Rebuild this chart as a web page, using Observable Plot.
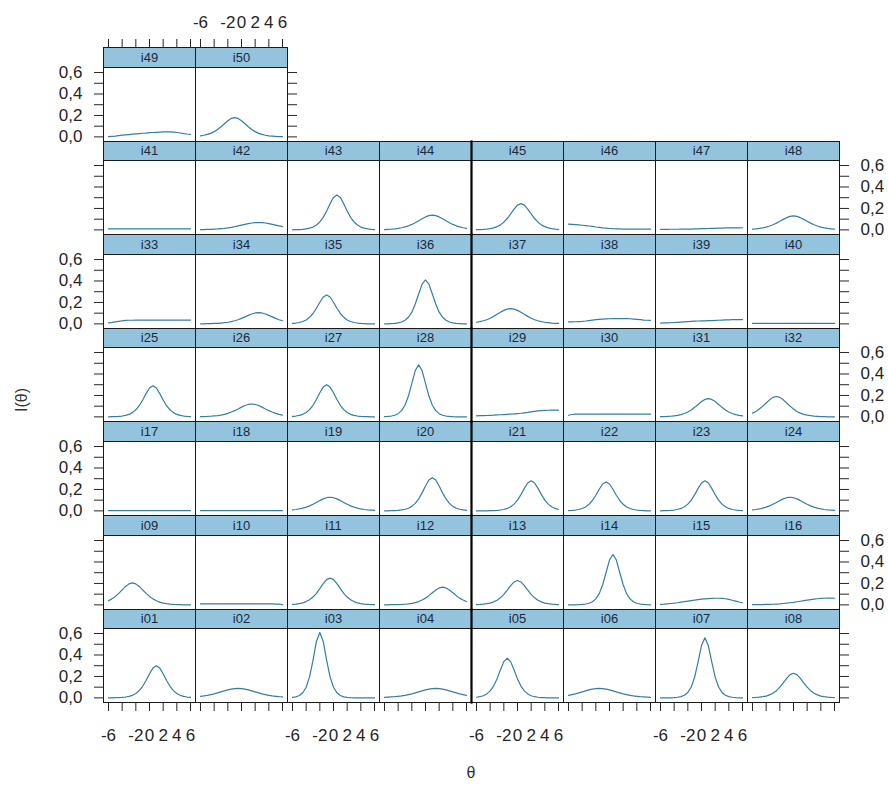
<!DOCTYPE html>
<html><head><meta charset="utf-8">
<script src="https://cdn.jsdelivr.net/npm/d3@7"></script>
<script src="https://cdn.jsdelivr.net/npm/@observablehq/plot@0.6"></script>
<style>
html,body{margin:0;padding:0;background:#fff;}
#chart{position:relative;width:888px;height:787px;overflow:hidden;font-family:"Liberation Sans",Arial,sans-serif;}
.ttl{position:absolute;color:#333;font-size:16px;white-space:nowrap;}
</style></head><body>
<div id="chart"></div>
<script>
// ---- data ----
const theta = [-6,-5.5,-5,-4.5,-4,-3.5,-3,-2.5,-2,-1.5,-1,-0.5,0,0.5,1,1.5,2,2.5,3,3.5,4,4.5,5,5.5,6];
const i01 = [0.001,0.001,0.002,0.003,0.005,0.008,0.014,0.024,0.041,0.068,0.108,0.162,0.225,0.278,0.300,0.278,0.225,0.162,0.108,0.068,0.041,0.024,0.014,0.008,0.005];
const i02 = [0.015,0.019,0.024,0.031,0.038,0.047,0.056,0.065,0.074,0.081,0.086,0.088,0.086,0.081,0.074,0.065,0.056,0.047,0.038,0.031,0.024,0.019,0.015,0.011,0.009];
const i03 = [0.005,0.010,0.022,0.048,0.099,0.196,0.350,0.526,0.610,0.526,0.350,0.196,0.099,0.048,0.022,0.010,0.005,0.002,0.001,0,0,0,0,0,0];
const i04 = [0.005,0.007,0.009,0.011,0.015,0.019,0.024,0.031,0.038,0.047,0.056,0.065,0.074,0.081,0.086,0.088,0.086,0.081,0.074,0.065,0.056,0.047,0.038,0.031,0.024];
const i05 = [0.006,0.011,0.020,0.037,0.065,0.110,0.177,0.261,0.338,0.370,0.338,0.261,0.177,0.110,0.065,0.037,0.020,0.011,0.006,0.003,0.002,0.001,0.001,0,0];
const i06 = [0.024,0.031,0.038,0.047,0.056,0.065,0.074,0.081,0.086,0.088,0.086,0.081,0.074,0.065,0.056,0.047,0.038,0.031,0.024,0.019,0.015,0.011,0.009,0.007,0.005];
const i07 = [0,0,0.001,0.001,0.003,0.006,0.012,0.025,0.051,0.102,0.194,0.335,0.488,0.560,0.488,0.335,0.194,0.102,0.051,0.025,0.012,0.006,0.003,0.001,0.001];
const i08 = [0.003,0.004,0.007,0.011,0.017,0.028,0.044,0.067,0.100,0.140,0.182,0.217,0.230,0.217,0.182,0.140,0.100,0.067,0.044,0.028,0.017,0.011,0.007,0.004,0.003];
const i09 = [0.038,0.056,0.079,0.107,0.140,0.172,0.196,0.205,0.196,0.172,0.140,0.107,0.079,0.056,0.038,0.026,0.017,0.012,0.008,0.005,0.003,0.002,0.001,0.001,0.001];
const i10 = [0.009,0.009,0.009,0.009,0.009,0.009,0.009,0.009,0.009,0.009,0.009,0.009,0.009,0.009,0.009,0.009,0.009,0.009,0.009,0.009,0.009,0.009,0.008,0.008,0.003];
const i11 = [0.005,0.007,0.012,0.019,0.031,0.048,0.073,0.108,0.152,0.198,0.236,0.250,0.236,0.198,0.152,0.108,0.073,0.048,0.031,0.019,0.012,0.007,0.005,0.003,0.002];
const i12 = [0.001,0.001,0.002,0.002,0.003,0.004,0.006,0.009,0.014,0.021,0.031,0.045,0.063,0.086,0.113,0.138,0.158,0.165,0.158,0.138,0.113,0.086,0.063,0.045,0.031];
const i13 = [0.003,0.004,0.007,0.011,0.017,0.028,0.043,0.066,0.098,0.138,0.180,0.214,0.227,0.214,0.180,0.138,0.098,0.066,0.043,0.028,0.017,0.011,0.007,0.004,0.003];
const i14 = [0,0,0.001,0.002,0.004,0.008,0.015,0.029,0.056,0.105,0.188,0.302,0.418,0.470,0.418,0.302,0.188,0.105,0.056,0.029,0.015,0.008,0.004,0.002,0.001];
const i15 = [0.005,0.007,0.010,0.013,0.016,0.020,0.025,0.030,0.035,0.040,0.045,0.049,0.053,0.056,0.059,0.061,0.062,0.062,0.061,0.057,0.051,0.043,0.035,0.027,0.020];
const i16 = [0.002,0.002,0.003,0.003,0.004,0.005,0.006,0.008,0.010,0.013,0.016,0.020,0.024,0.029,0.034,0.039,0.044,0.049,0.053,0.057,0.060,0.062,0.063,0.063,0.062];
const i17 = [0.003,0.003,0.003,0.003,0.003,0.003,0.003,0.003,0.003,0.003,0.003,0.003,0.003,0.003,0.003,0.003,0.003,0.003,0.003,0.003,0.003,0.003,0.003,0.003,0.003];
const i18 = [0.003,0.003,0.003,0.003,0.003,0.003,0.003,0.003,0.003,0.003,0.003,0.003,0.003,0.003,0.003,0.003,0.003,0.003,0.003,0.003,0.003,0.003,0.003,0.003,0.003];
const i19 = [0.009,0.013,0.018,0.026,0.035,0.047,0.062,0.079,0.096,0.112,0.123,0.127,0.123,0.112,0.096,0.079,0.062,0.047,0.035,0.026,0.018,0.013,0.009,0.007,0.005];
const i20 = [0.001,0.001,0.002,0.003,0.005,0.009,0.015,0.025,0.042,0.070,0.111,0.168,0.232,0.288,0.310,0.288,0.232,0.168,0.111,0.070,0.042,0.025,0.015,0.009,0.005];
const i21 = [0,0,0.001,0.001,0.002,0.003,0.005,0.008,0.013,0.023,0.038,0.063,0.101,0.151,0.210,0.260,0.280,0.260,0.210,0.151,0.101,0.063,0.038,0.023,0.013];
const i22 = [0.003,0.004,0.008,0.013,0.022,0.037,0.061,0.097,0.146,0.202,0.251,0.270,0.251,0.202,0.146,0.097,0.061,0.037,0.022,0.013,0.008,0.004,0.003,0.001,0.001];
const i23 = [0.001,0.002,0.003,0.005,0.008,0.013,0.023,0.038,0.063,0.101,0.151,0.210,0.260,0.280,0.260,0.210,0.151,0.101,0.063,0.038,0.023,0.013,0.008,0.005,0.003];
const i24 = [0.009,0.013,0.018,0.026,0.035,0.047,0.062,0.079,0.096,0.112,0.123,0.127,0.123,0.112,0.096,0.079,0.062,0.047,0.035,0.026,0.018,0.013,0.009,0.007,0.005];
const i25 = [0.001,0.002,0.003,0.005,0.008,0.014,0.023,0.040,0.066,0.104,0.157,0.217,0.269,0.290,0.269,0.217,0.157,0.104,0.066,0.040,0.023,0.014,0.008,0.005,0.003];
const i26 = [0.002,0.003,0.004,0.006,0.009,0.012,0.017,0.024,0.033,0.045,0.058,0.074,0.091,0.106,0.116,0.120,0.116,0.106,0.091,0.074,0.058,0.045,0.033,0.024,0.017];
const i27 = [0.005,0.008,0.014,0.024,0.041,0.068,0.108,0.162,0.225,0.278,0.300,0.278,0.225,0.162,0.108,0.068,0.041,0.024,0.014,0.008,0.005,0.003,0.002,0.001,0.001];
const i28 = [0.002,0.004,0.008,0.015,0.030,0.058,0.109,0.194,0.312,0.432,0.485,0.432,0.312,0.194,0.109,0.058,0.030,0.015,0.008,0.004,0.002,0.001,0,0,0];
const i29 = [0.010,0.011,0.012,0.013,0.015,0.016,0.018,0.020,0.022,0.024,0.026,0.028,0.031,0.034,0.038,0.042,0.047,0.052,0.056,0.059,0.061,0.062,0.063,0.063,0.063];
const i30 = [0.015,0.022,0.026,0.026,0.026,0.026,0.026,0.026,0.026,0.026,0.026,0.026,0.026,0.026,0.026,0.026,0.026,0.026,0.026,0.026,0.026,0.026,0.026,0.026,0.026];
const i31 = [0.002,0.003,0.004,0.006,0.010,0.014,0.021,0.032,0.046,0.065,0.089,0.116,0.143,0.163,0.170,0.163,0.143,0.116,0.089,0.065,0.046,0.032,0.021,0.014,0.010];
const i32 = [0.035,0.051,0.073,0.100,0.130,0.159,0.182,0.190,0.182,0.159,0.130,0.100,0.073,0.051,0.035,0.024,0.016,0.011,0.007,0.005,0.003,0.002,0.001,0.001,0.001];
const i33 = [0.010,0.014,0.019,0.024,0.029,0.032,0.034,0.034,0.035,0.035,0.035,0.035,0.036,0.036,0.036,0.036,0.036,0.036,0.036,0.036,0.036,0.036,0.036,0.036,0.036];
const i34 = [0.001,0.001,0.002,0.003,0.004,0.005,0.008,0.011,0.015,0.021,0.029,0.039,0.051,0.065,0.079,0.092,0.102,0.105,0.102,0.092,0.079,0.065,0.051,0.039,0.029];
const i35 = [0.004,0.008,0.013,0.022,0.037,0.061,0.097,0.146,0.202,0.251,0.270,0.251,0.202,0.146,0.097,0.061,0.037,0.022,0.013,0.008,0.004,0.003,0.001,0.001,0];
const i36 = [0.001,0.001,0.003,0.005,0.009,0.018,0.034,0.062,0.109,0.185,0.279,0.371,0.410,0.371,0.279,0.185,0.109,0.062,0.034,0.018,0.009,0.005,0.003,0.001,0.001];
const i37 = [0.015,0.021,0.029,0.039,0.053,0.070,0.089,0.108,0.126,0.138,0.143,0.138,0.126,0.108,0.089,0.070,0.053,0.039,0.029,0.021,0.015,0.011,0.007,0.005,0.004];
const i38 = [0.018,0.019,0.020,0.022,0.024,0.027,0.031,0.035,0.039,0.042,0.045,0.047,0.048,0.049,0.050,0.050,0.050,0.049,0.048,0.045,0.042,0.039,0.036,0.034,0.033];
const i39 = [0.008,0.009,0.010,0.011,0.013,0.015,0.017,0.019,0.021,0.023,0.025,0.027,0.028,0.029,0.030,0.031,0.032,0.034,0.036,0.037,0.038,0.039,0.040,0.040,0.040];
const i40 = [0.004,0.004,0.004,0.004,0.004,0.004,0.004,0.004,0.004,0.004,0.004,0.004,0.004,0.004,0.004,0.004,0.004,0.004,0.004,0.004,0.004,0.004,0.004,0.004,0.004];
const i41 = [0.010,0.010,0.010,0.010,0.010,0.010,0.010,0.010,0.010,0.010,0.010,0.010,0.010,0.010,0.010,0.010,0.010,0.010,0.010,0.010,0.010,0.010,0.010,0.010,0.010];
const i42 = [0.002,0.003,0.004,0.005,0.007,0.009,0.012,0.015,0.019,0.024,0.030,0.037,0.044,0.051,0.058,0.064,0.068,0.069,0.068,0.064,0.058,0.051,0.044,0.037,0.030];
const i43 = [0.001,0.002,0.003,0.005,0.009,0.016,0.026,0.045,0.074,0.117,0.176,0.244,0.303,0.326,0.303,0.244,0.176,0.117,0.074,0.045,0.026,0.016,0.009,0.005,0.003];
const i44 = [0.003,0.005,0.007,0.010,0.014,0.020,0.028,0.038,0.051,0.067,0.085,0.104,0.121,0.133,0.137,0.133,0.121,0.104,0.085,0.067,0.051,0.038,0.028,0.020,0.014];
const i45 = [0.002,0.003,0.004,0.007,0.012,0.019,0.030,0.047,0.072,0.106,0.149,0.194,0.231,0.245,0.231,0.194,0.149,0.106,0.072,0.047,0.030,0.019,0.012,0.007,0.004];
const i46 = [0.053,0.051,0.049,0.046,0.043,0.040,0.036,0.032,0.027,0.023,0.019,0.016,0.013,0.011,0.010,0.009,0.008,0.008,0.008,0.008,0.007,0.007,0.007,0.007,0.007];
const i47 = [0.005,0.005,0.005,0.006,0.006,0.006,0.007,0.007,0.008,0.008,0.009,0.010,0.011,0.012,0.013,0.014,0.015,0.016,0.017,0.018,0.018,0.019,0.019,0.019,0.020];
const i48 = [0.007,0.010,0.014,0.019,0.026,0.036,0.048,0.063,0.081,0.098,0.114,0.126,0.130,0.126,0.114,0.098,0.081,0.063,0.048,0.036,0.026,0.019,0.014,0.010,0.007];
const i49 = [0.002,0.005,0.008,0.012,0.016,0.019,0.022,0.025,0.028,0.031,0.034,0.036,0.039,0.041,0.043,0.045,0.047,0.048,0.047,0.045,0.041,0.036,0.031,0.027,0.024];
const i50 = [0.010,0.015,0.023,0.033,0.049,0.069,0.094,0.123,0.151,0.172,0.180,0.172,0.151,0.123,0.094,0.069,0.049,0.033,0.023,0.015,0.010,0.007,0.004,0.003,0.002];

const itemNames = ["i01","i02","i03","i04","i05","i06","i07","i08","i09","i10",
  "i11","i12","i13","i14","i15","i16","i17","i18","i19","i20",
  "i21","i22","i23","i24","i25","i26","i27","i28","i29","i30",
  "i31","i32","i33","i34","i35","i36","i37","i38","i39","i40",
  "i41","i42","i43","i44","i45","i46","i47","i48","i49","i50"];
const itemValues = [i01,i02,i03,i04,i05,i06,i07,i08,i09,i10,i11,i12,i13,i14,i15,i16,i17,i18,i19,i20,
  i21,i22,i23,i24,i25,i26,i27,i28,i29,i30,i31,i32,i33,i34,i35,i36,i37,i38,i39,i40,
  i41,i42,i43,i44,i45,i46,i47,i48,i49,i50];
const yTickValues = [0, 0.1, 0.2, 0.3, 0.4, 0.5, 0.6];
const yTickLabels = [0, 0.2, 0.4, 0.6];
const xTickValues = [-6, -4, -2, 0, 2, 4, 6];
const xTickLabels = [-6, -2, 0, 2, 4, 6];
const xTitle = "θ";
const yTitle = "I(θ)";

// ---- layout & style ----
const NCOL = 8, PW = 92, PH = 74, LEFT0 = 103;
const stripTops = [47, 141, 234, 328, 421, 515, 609];
const panelBottoms = [141, 234, 328, 421, 515, 609, 702];
const M = {l: 70, r: 70, t: 70, b: 60};
const lineColor = "#357f9c", stripColor = "#94c3de", borderColor = "#1a1a1a", textColor = "#262626";
const fmtY = d => d.toFixed(1).replace(".", ",");
const fmtX = d => String(d);
const blank = () => "";
const FS = 17;

const chart = document.getElementById("chart");
itemNames.forEach((name, n) => {
  const rb = Math.floor(n / NCOL), c = n % NCOL, R = 6 - rb;
  const panelTop = panelBottoms[R] - PH;
  const stripH = panelTop - stripTops[R];
  const lastInRow = c === NCOL - 1 || n === itemNames.length - 1;
  const data = theta.map((t, j) => ({theta: t, info: itemValues[n][j]}));
  const marks = [
    Plot.frame({fill: stripColor, stroke: borderColor, insetTop: -stripH, insetBottom: PH}),
    Plot.text([name], {text: d => d, frameAnchor: "top", lineAnchor: "middle", dy: -stripH / 2, fontSize: 13, fill: "#1b2a3a"}),
    Plot.line(data, {x: "theta", y: "info", stroke: lineColor, strokeWidth: 1.2}),
    Plot.frame({stroke: borderColor})
  ];
  if (c === 4 && rb <= 5) {
    marks.push(Plot.frame({anchor: "left", stroke: "#000", strokeWidth: 2.2, insetTop: -stripH}));
  }
  if (rb === 0) {
    marks.push(Plot.axisX(xTickValues, {anchor: "bottom", tickSize: 9, tickFormat: blank, label: null}));
    if (c % 2 === 0) marks.push(Plot.axisX(xTickLabels, {anchor: "bottom", tickSize: 0, tickPadding: 26, tickFormat: fmtX, fontSize: FS, label: null}));
  }
  if (R === 0) {
    marks.push(Plot.axisX(xTickValues, {anchor: "top", tickSize: 9, dy: -stripH, tickFormat: blank, label: null}));
    if (c % 2 === 1) marks.push(Plot.axisX(xTickLabels, {anchor: "top", tickSize: 0, tickPadding: stripH + 20, tickFormat: fmtX, fontSize: FS, label: null}));
  }
  if (c === 0) {
    marks.push(Plot.axisY(yTickValues, {anchor: "left", tickSize: 9, tickFormat: blank, label: null}));
    if (rb % 2 === 0) marks.push(Plot.axisY(yTickLabels, {anchor: "left", tickSize: 0, tickPadding: 21, tickFormat: fmtY, fontSize: FS, label: null}));
  }
  if (lastInRow) {
    marks.push(Plot.axisY(yTickValues, {anchor: "right", tickSize: 9, tickFormat: blank, label: null}));
    if (rb % 2 === 1) marks.push(Plot.axisY(yTickLabels, {anchor: "right", tickSize: 0, tickPadding: 21, tickFormat: fmtY, fontSize: FS, label: null}));
  }
  const svg = Plot.plot({
    width: PW + M.l + M.r, height: PH + M.t + M.b,
    marginLeft: M.l, marginRight: M.r, marginTop: M.t, marginBottom: M.b,
    x: {domain: [-6.73, 6.73], axis: null, label: null},
    y: {domain: [-0.043, 0.647], axis: null, label: null},
    style: {background: "transparent", overflow: "visible", color: textColor,
            fontFamily: "'Liberation Sans', Arial, sans-serif", fontSize: "16px"},
    marks
  });
  svg.style.position = "absolute";
  svg.style.left = (LEFT0 + c * PW - M.l) + "px";
  svg.style.top = (panelTop - M.t) + "px";
  chart.appendChild(svg);
});

const xt = document.createElement("div");
xt.className = "ttl"; xt.textContent = xTitle;
xt.style.left = "471px"; xt.style.top = "773px"; xt.style.transform = "translate(-50%,-50%)";
chart.appendChild(xt);
const yt = document.createElement("div");
yt.className = "ttl"; yt.textContent = yTitle;
yt.style.left = "22px"; yt.style.top = "400px"; yt.style.transform = "translate(-50%,-50%) rotate(-90deg)";
chart.appendChild(yt);
</script></body></html>
